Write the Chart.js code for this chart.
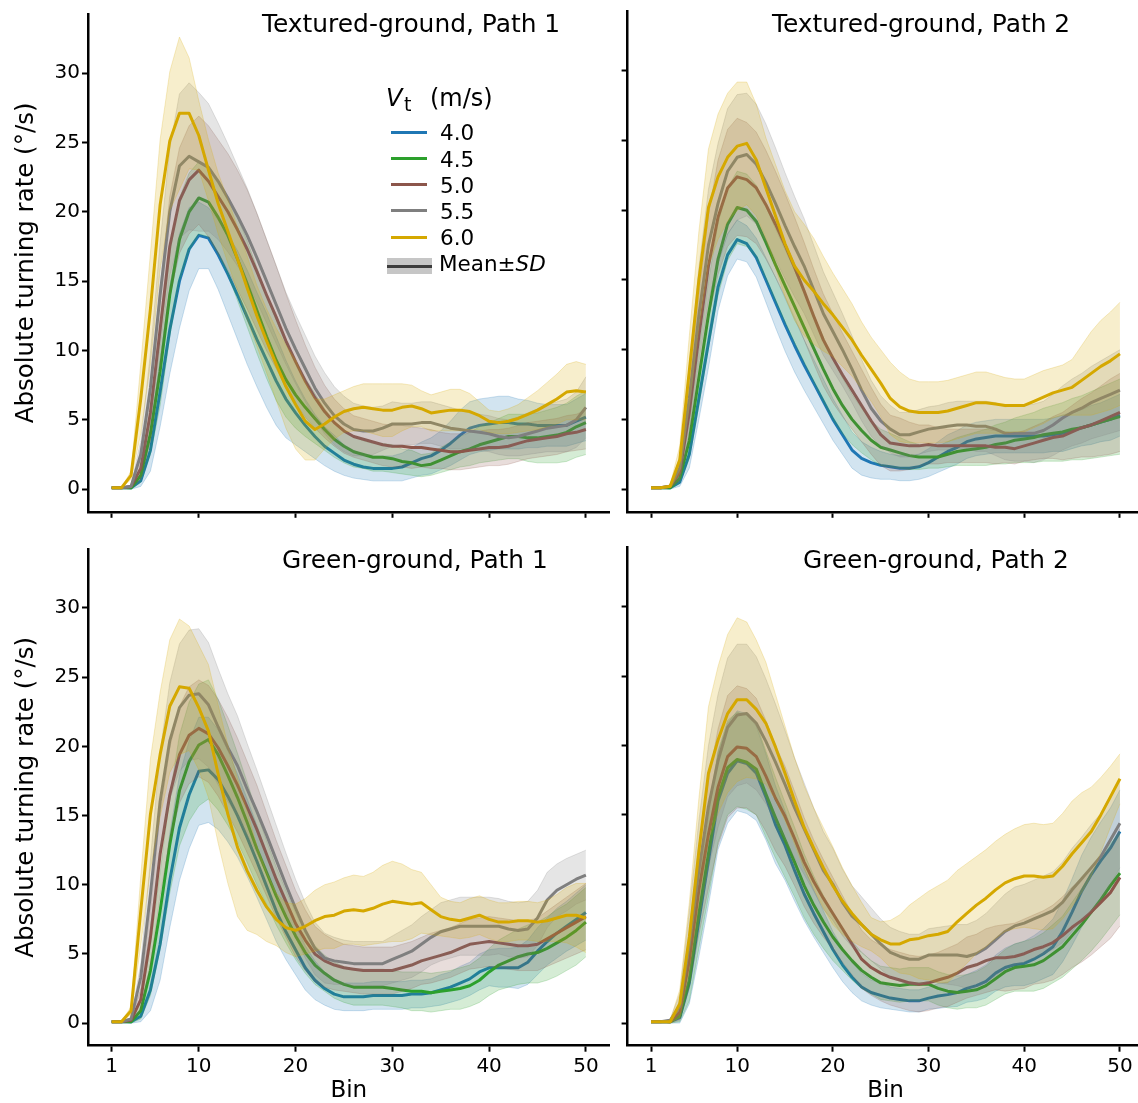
<!DOCTYPE html>
<html><head><meta charset="utf-8"><title>Absolute turning rate</title>
<script src="https://cdn.jsdelivr.net/npm/chart.js@4.4.1/dist/chart.umd.min.js"></script>
<style>
html,body{margin:0;padding:0;background:#fff;overflow:hidden;}
#wrap{position:relative;width:1138px;height:1103px;overflow:hidden;font-family:'DejaVu Sans',sans-serif;color:#000;}
#wrap canvas{position:absolute;}
.txt{position:absolute;white-space:nowrap;line-height:1;}
.sw{position:absolute;height:3px;width:36px;left:391px;}
</style></head><body>
<div id="wrap">
 <canvas id="cTL" width="620" height="540" style="left:0px;top:0px"></canvas>
 <canvas id="cTR" width="600" height="540" style="left:560px;top:0px"></canvas>
 <canvas id="cBL" width="620" height="568" style="left:0px;top:535px"></canvas>
 <canvas id="cBR" width="600" height="568" style="left:560px;top:535px"></canvas>

 <div class="txt" style="left:262px;top:11.9px;font-size:24.9px">Textured-ground, Path 1</div>
 <div class="txt" style="left:772px;top:11.9px;font-size:24.9px">Textured-ground, Path 2</div>
 <div class="txt" style="left:282px;top:548px;font-size:24.8px">Green-ground, Path 1</div>
 <div class="txt" style="left:803px;top:548px;font-size:24.8px">Green-ground, Path 2</div>

 <div class="txt" style="left:386px;top:85.7px;font-size:24px;font-style:italic">V</div>
 <div class="txt" style="left:404px;top:94.9px;font-size:19px">t</div>
 <div class="txt" style="left:430px;top:85.7px;font-size:24px">(m/s)</div>
 <div id="legendItems"></div>
 <div style="position:absolute;left:387px;top:258px;width:45px;height:16px;background:#c6c6c6"></div>
 <div style="position:absolute;left:387px;top:264.5px;width:45px;height:3px;background:#3c3c3c"></div>
 <div class="txt" style="left:439px;top:253.2px;font-size:21.5px">Mean±<i>SD</i></div>
</div>
<script>
// ---------------- data ----------------
const bins = [1,2,3,4,5,6,7,8,9,10,11,12,13,14,15,16,17,18,19,20,21,22,23,24,25,26,27,28,29,30,31,32,33,34,35,36,37,38,39,40,41,42,43,44,45,46,47,48,49,50];
const xTickValues = [1,10,20,30,40,50];
const yTickValues = [0,5,10,15,20,25,30];
const speeds = ['4.0','4.5','5.0','5.5','6.0'];
const seriesColors = ['#1f77b4','#2ca02c','#8c564b','#7f7f7f','#d5a800'];

// Textured-ground, Path 1 : means
const tg1_m40 = [0.1,0.1,0.1,0.6,2.8,7.0,11.5,15.0,17.3,18.3,18.1,16.9,15.5,14.0,12.4,10.8,9.3,7.8,6.5,5.5,4.6,3.8,3.1,2.6,2.1,1.8,1.6,1.5,1.5,1.5,1.6,1.9,2.2,2.4,2.8,3.3,3.9,4.4,4.6,4.7,4.8,4.8,4.7,4.7,4.6,4.6,4.6,4.6,4.9,5.2];
const tg1_m45 = [0.1,0.1,0.1,1.0,4.0,8.5,14.0,18.0,20.0,21.0,20.7,19.6,18.3,16.6,14.8,12.9,11.0,9.3,7.9,6.8,5.9,5.1,4.3,3.6,3.1,2.7,2.5,2.3,2.3,2.2,2.0,1.9,1.7,1.8,2.1,2.4,2.7,2.9,3.2,3.4,3.6,3.8,3.8,3.7,3.7,3.8,3.9,4.1,4.5,4.8];
const tg1_m50 = [0.1,0.1,0.2,1.5,5.5,11.5,17.5,20.8,22.3,23.0,22.2,21.1,20.0,18.7,17.3,15.7,14.0,12.4,10.7,9.2,7.8,6.6,5.6,4.8,4.2,3.8,3.6,3.4,3.2,3.1,3.1,3.0,3.0,2.9,2.8,2.7,2.7,2.8,2.9,3.0,3.0,3.1,3.3,3.5,3.6,3.7,3.8,4.0,4.1,4.3];
const tg1_m55 = [0.1,0.1,0.2,2.5,7.3,14.0,20.0,23.3,24.0,23.6,23.2,22.2,21.0,19.7,18.3,16.7,15.0,13.3,11.6,10.1,8.7,7.3,6.2,5.3,4.7,4.3,4.2,4.2,4.4,4.7,4.7,4.7,4.8,4.8,4.6,4.4,4.3,4.2,4.1,4.0,3.8,3.7,3.8,4.0,4.2,4.4,4.5,4.6,5.0,5.9];
const tg1_m60 = [0.1,0.1,1.0,6.5,13.0,20.5,25.1,27.1,27.1,25.5,23.0,20.6,18.6,16.6,14.5,12.5,10.7,9.0,7.4,6.1,4.9,4.3,4.7,5.2,5.6,5.8,5.9,5.8,5.7,5.7,5.9,6.0,5.8,5.5,5.6,5.7,5.7,5.6,5.3,4.9,4.8,4.9,5.1,5.4,5.7,6.1,6.5,7.0,7.1,7.0];
// Textured-ground, Path 1 : SD
const tg1_s40 = [0,0,0.1,0.4,1.5,2.5,3.2,3.4,3.0,2.4,2.2,2.5,2.9,3.2,3.4,3.4,3.4,3.2,2.8,2.3,1.9,1.6,1.4,1.3,1.1,1.0,0.9,0.9,0.9,0.9,1.0,1.1,1.2,1.3,1.4,1.6,1.8,1.9,1.9,1.9,1.9,1.9,1.8,1.7,1.6,1.5,1.5,1.5,1.6,1.7];
const tg1_s45 = [0,0,0.1,0.5,1.5,2.5,3.0,3.0,2.8,2.6,2.5,2.6,2.8,3.0,3.1,3.1,3.0,2.9,2.7,2.4,2.1,1.8,1.5,1.3,1.2,1.1,1.0,1.0,1.0,1.0,0.9,0.9,0.8,0.8,0.9,1.0,1.1,1.2,1.3,1.4,1.5,1.6,1.6,1.7,1.8,1.9,2.0,2.1,2.2,2.3];
const tg1_s50 = [0,0,0.1,0.8,2.0,3.0,3.6,3.8,3.9,3.9,4.0,4.1,4.2,4.3,4.3,4.2,4.0,3.7,3.4,3.0,2.6,2.2,1.9,1.7,1.6,1.5,1.5,1.5,1.5,1.5,1.5,1.5,1.4,1.4,1.3,1.3,1.3,1.3,1.3,1.3,1.3,1.3,1.3,1.3,1.3,1.3,1.3,1.3,1.3,1.4];
const tg1_s55 = [0,0,0.1,1.0,2.5,3.8,4.6,5.2,5.3,5.0,4.6,4.2,3.9,3.6,3.4,3.2,3.0,2.8,2.6,2.5,2.4,2.3,2.2,2.1,2.0,1.9,1.8,1.7,1.6,1.6,1.5,1.5,1.5,1.5,1.5,1.5,1.4,1.3,1.3,1.3,1.3,1.3,1.4,1.5,1.6,1.7,1.8,1.9,2.0,2.2];
const tg1_s60 = [0,0,0.3,2.5,4.0,4.7,5.0,5.5,4.0,2.5,2.2,2.2,2.3,2.3,2.3,2.2,2.3,2.6,3.0,3.2,2.8,2.2,1.8,1.6,1.5,1.6,1.7,1.8,1.9,1.9,1.7,1.5,1.3,1.3,1.4,1.5,1.5,1.3,1.0,0.8,0.8,0.9,1.0,1.2,1.4,1.6,1.8,2.0,2.1,2.0];

// Textured-ground, Path 2 : means
const tg2_m40 = [0.1,0.1,0.1,0.5,2.5,6.5,10.5,14.5,16.8,17.9,17.6,16.6,15.0,13.4,11.8,10.3,8.9,7.6,6.3,5.0,3.9,2.8,2.2,1.9,1.7,1.6,1.5,1.5,1.6,1.9,2.3,2.7,3.0,3.4,3.6,3.7,3.8,3.8,3.8,3.8,3.8,3.8,3.9,4.0,4.2,4.4,4.6,4.8,5.0,5.3];
const tg2_m45 = [0.1,0.1,0.1,0.8,3.5,8.0,12.5,16.5,19.0,20.2,20.0,19.2,17.7,16.1,14.6,13.1,11.6,10.1,8.6,7.2,6.0,5.0,4.2,3.5,3.0,2.8,2.6,2.4,2.3,2.3,2.3,2.5,2.7,2.8,2.9,3.0,3.2,3.3,3.5,3.6,3.7,3.9,4.0,4.1,4.3,4.4,4.6,4.8,5.0,5.2];
const tg2_m50 = [0.1,0.1,0.2,1.2,5.5,11.0,16.0,19.5,21.6,22.4,22.2,21.6,20.4,19.0,17.5,15.9,14.2,12.4,10.7,9.4,8.2,7.1,6.0,4.9,3.9,3.3,3.2,3.1,3.1,3.2,3.1,3.1,3.1,3.1,3.1,3.1,3.0,3.0,2.9,3.1,3.3,3.5,3.7,3.8,4.1,4.4,4.6,4.9,5.2,5.5];
const tg2_m55 = [0.1,0.1,0.2,1.5,6.5,12.5,17.5,20.5,22.8,23.8,24.0,23.3,22.0,20.5,18.9,17.4,16.0,14.3,12.6,11.3,10.0,8.6,7.1,5.8,4.9,4.3,3.9,3.9,4.1,4.3,4.4,4.5,4.6,4.6,4.5,4.5,4.3,4.0,4.0,4.0,4.0,4.2,4.6,5.1,5.5,5.8,6.2,6.5,6.8,7.1];
const tg2_m60 = [0.1,0.1,0.2,2.1,8.5,15.0,20.2,22.4,23.8,24.6,24.8,23.6,21.6,19.6,17.6,16.0,15.0,14.2,13.3,12.5,11.6,10.7,9.6,8.6,7.6,6.5,5.9,5.6,5.5,5.5,5.5,5.6,5.8,6.0,6.2,6.2,6.1,6.0,6.0,6.0,6.3,6.6,6.9,7.1,7.3,7.8,8.3,8.8,9.2,9.7];
// Textured-ground, Path 2 : SD
const tg2_s40 = [0,0,0.1,0.3,1.0,1.5,1.8,1.7,1.5,1.4,1.3,1.4,1.6,1.8,1.9,1.9,1.8,1.7,1.6,1.5,1.4,1.3,1.2,1.1,1.0,0.9,0.9,0.9,0.9,1.0,1.1,1.2,1.2,1.2,1.2,1.2,1.2,1.2,1.2,1.2,1.2,1.2,1.2,1.3,1.3,1.3,1.4,1.4,1.5,1.5];
const tg2_s45 = [0,0,0.1,0.4,1.3,2.0,2.4,2.6,2.6,2.6,2.6,2.6,2.6,2.6,2.6,2.6,2.5,2.4,2.3,2.2,2.0,1.8,1.6,1.4,1.3,1.2,1.1,1.0,0.9,0.8,0.8,0.9,1.0,1.1,1.2,1.3,1.4,1.5,1.6,1.7,1.8,1.9,2.0,2.1,2.2,2.3,2.4,2.5,2.6,2.7];
const tg2_s50 = [0,0,0.1,0.6,2.0,3.0,3.7,4.1,4.2,4.2,4.1,4.0,3.9,3.8,3.7,3.6,3.5,3.4,3.3,3.2,3.0,2.8,2.6,2.4,2.2,2.0,1.9,1.7,1.5,1.4,1.3,1.2,1.2,1.2,1.2,1.2,1.2,1.1,1.1,1.1,1.2,1.3,1.5,1.7,1.9,2.1,2.3,2.5,2.7,2.8];
const tg2_s55 = [0,0,0.1,0.8,2.3,3.4,4.0,4.3,4.5,4.5,4.4,4.3,4.2,4.0,3.8,3.6,3.4,3.2,3.0,2.8,2.6,2.4,2.2,2.0,1.8,1.7,1.6,1.6,1.6,1.6,1.6,1.7,1.7,1.7,1.8,1.8,1.9,1.9,2.0,2.0,2.1,2.1,2.2,2.3,2.4,2.5,2.6,2.7,2.8,2.9];
const tg2_s60 = [0,0,0.1,1.0,2.5,3.5,4.2,4.5,4.6,4.6,4.4,4.0,3.6,3.7,3.8,3.9,4.0,3.8,3.4,3.0,2.8,2.6,2.4,2.3,2.4,2.6,2.5,2.3,2.2,2.2,2.2,2.2,2.2,2.2,2.2,2.2,2.1,2.0,1.9,1.9,1.9,1.9,1.8,1.8,2.0,2.5,3.0,3.3,3.5,3.7];

// Green-ground, Path 1 : means
const gg1_m40 = [0.1,0.1,0.1,0.5,2.4,5.7,10.3,14.1,16.5,18.2,18.3,17.6,16.4,15.0,13.4,11.7,9.9,8.1,6.6,5.3,4.0,3.1,2.5,2.1,1.9,1.9,1.9,2.0,2.0,2.0,2.0,2.1,2.1,2.2,2.4,2.6,2.9,3.2,3.7,4.0,4.0,4.0,4.0,4.4,5.2,5.9,6.5,7.0,7.5,8.0];
const gg1_m45 = [0.1,0.1,0.1,0.9,3.8,8.1,12.9,16.8,18.9,20.1,20.5,19.4,17.9,16.3,14.5,12.6,10.9,9.2,7.7,6.3,5.1,4.2,3.6,3.1,2.8,2.6,2.6,2.6,2.6,2.5,2.4,2.3,2.3,2.2,2.3,2.4,2.5,2.7,3.1,3.7,4.2,4.5,4.8,5.0,5.1,5.4,5.8,6.2,6.7,7.3];
const gg1_m50 = [0.1,0.1,0.2,1.7,6.2,12.2,16.5,19.4,20.8,21.3,20.9,19.9,18.6,17.2,15.6,14.0,12.2,10.4,8.8,7.2,6.0,5.0,4.5,4.2,4.0,3.9,3.8,3.8,3.8,3.8,4.0,4.2,4.5,4.7,4.9,5.1,5.4,5.7,5.8,5.9,5.8,5.7,5.6,5.6,5.7,6.1,6.5,6.9,7.3,7.7];
const gg1_m55 = [0.1,0.1,0.3,3.3,9.3,16.0,20.4,22.8,23.7,23.8,23.0,21.4,19.9,18.6,16.9,15.3,13.6,11.8,10.0,8.3,6.7,5.4,4.7,4.5,4.4,4.3,4.3,4.3,4.3,4.6,4.9,5.2,5.7,6.2,6.6,6.8,7.0,7.0,7.0,7.0,7.0,6.8,6.7,6.8,7.6,8.9,9.6,10.0,10.4,10.7];
const gg1_m60 = [0.1,0.1,0.9,8.1,15.1,19.4,22.9,24.3,24.2,22.8,21.1,18.0,15.1,12.7,11.0,9.6,8.4,7.5,6.9,6.7,7.0,7.4,7.7,7.8,8.1,8.2,8.1,8.3,8.6,8.8,8.7,8.6,8.7,8.2,7.7,7.5,7.4,7.6,7.8,7.5,7.3,7.3,7.4,7.4,7.3,7.4,7.6,7.8,7.8,7.6];
// Green-ground, Path 1 : SD
const gg1_s40 = [0,0,0.1,0.4,1.5,2.6,3.4,3.8,3.9,3.9,3.8,3.6,3.3,3.0,2.8,2.6,2.4,2.2,2.0,1.8,1.6,1.4,1.2,1.1,1.0,1.0,1.0,1.0,1.0,1.0,1.0,1.0,1.0,1.0,1.1,1.1,1.2,1.2,1.3,1.3,1.4,1.4,1.5,1.6,1.7,1.7,1.8,1.8,1.9,2.0];
const gg1_s45 = [0,0,0.1,0.6,1.8,2.8,3.5,4.0,4.3,4.4,4.3,4.0,3.6,3.2,2.9,2.6,2.3,2.1,1.9,1.7,1.5,1.4,1.3,1.3,1.3,1.3,1.3,1.3,1.3,1.3,1.3,1.4,1.4,1.4,1.4,1.4,1.5,1.5,1.6,1.7,1.8,1.9,2.0,2.1,2.2,2.3,2.4,2.4,2.5,2.5];
const gg1_s50 = [0,0,0.1,0.8,2.0,3.0,3.4,3.5,3.5,3.5,3.5,3.5,3.5,3.4,3.3,3.2,3.0,2.8,2.6,2.4,2.2,2.0,1.9,1.8,1.7,1.7,1.7,1.7,1.7,1.7,1.7,1.7,1.7,1.8,1.8,1.8,1.8,1.8,1.8,1.8,1.8,1.8,1.8,1.8,1.9,2.0,2.1,2.2,2.3,2.4];
const gg1_s55 = [0,0,0.1,1.0,2.5,3.6,4.2,4.6,4.7,4.7,4.5,4.2,3.9,3.6,3.3,3.0,2.7,2.5,2.3,2.1,2.0,1.9,1.8,1.7,1.6,1.6,1.6,1.6,1.6,1.7,1.8,1.9,2.0,2.0,2.1,2.1,2.1,2.1,2.1,2.1,2.0,2.0,2.0,2.0,2.0,2.0,1.9,1.9,1.8,1.8];
const gg1_s60 = [0,0,0.3,2.5,4.0,4.5,4.8,4.9,4.5,4.5,4.8,5.0,5.0,5.0,4.3,3.2,2.5,1.9,1.8,1.9,2.0,2.2,2.3,2.4,2.4,2.5,2.5,2.6,2.8,2.9,2.8,2.5,2.2,1.8,1.4,1.3,1.3,1.4,1.4,1.4,1.4,1.4,1.4,1.4,1.4,1.5,1.7,2.0,2.3,2.5];

// Green-ground, Path 2 : means
const gg2_m40 = [0.1,0.1,0.1,0.4,2.9,7.4,11.7,16.0,18.0,18.9,18.7,18.0,16.3,14.3,12.8,11.0,9.3,7.9,6.6,5.3,4.2,3.3,2.6,2.2,2.0,1.8,1.7,1.6,1.6,1.8,1.95,2.05,2.2,2.5,2.7,3.0,3.6,4.0,4.2,4.3,4.6,5.0,5.5,6.6,8.0,9.5,10.7,11.7,12.6,13.8];
const gg2_m45 = [0.1,0.1,0.1,0.5,3.1,7.9,12.2,16.3,18.4,19.0,18.8,18.3,16.5,14.8,13.2,11.6,9.9,8.5,7.3,6.2,5.3,4.5,3.8,3.3,2.9,2.8,2.7,2.8,2.8,2.8,2.5,2.3,2.2,2.3,2.4,2.7,3.2,3.7,4.0,4.1,4.2,4.5,5.0,5.5,6.3,7.1,8.0,8.9,9.9,10.8];
const gg2_m50 = [0.1,0.1,0.1,0.8,4.5,9.6,13.6,17.0,19.2,19.9,19.8,19.2,17.8,16.2,14.9,13.3,11.6,10.2,9.0,7.9,6.8,5.7,4.6,4.0,3.6,3.3,3.1,2.9,2.8,2.9,3.1,3.3,3.6,4.0,4.2,4.5,4.7,4.7,4.8,5.0,5.3,5.5,5.8,6.3,6.9,7.4,8.0,8.7,9.4,10.5];
const gg2_m55 = [0.1,0.1,0.2,1.2,5.7,11.0,15.6,18.9,21.3,22.2,22.3,21.6,20.3,18.8,17.2,15.5,14.0,12.5,11.0,10.0,8.7,7.7,7.1,6.4,5.7,5.1,4.8,4.6,4.6,4.9,4.9,4.9,4.9,4.8,5.0,5.4,6.0,6.6,7.0,7.2,7.5,7.8,8.1,8.7,9.6,10.4,11.2,12.0,13.2,14.4];
const gg2_m60 = [0.1,0.1,0.1,1.4,6.2,12.4,18.0,20.4,22.3,23.3,23.3,22.6,21.6,19.9,18.0,16.0,14.1,12.6,11.2,9.9,8.8,7.9,7.1,6.4,6.0,5.7,5.7,6.0,6.1,6.3,6.4,6.6,7.3,7.9,8.5,9.0,9.6,10.1,10.4,10.6,10.6,10.5,10.6,11.3,12.2,13.0,13.8,15.0,16.3,17.6];
// Green-ground, Path 2 : SD
const gg2_s40 = [0,0,0.1,0.4,1.5,2.6,3.2,3.5,3.6,3.6,3.6,3.4,3.1,2.8,2.5,2.2,1.9,1.7,1.5,1.3,1.2,1.1,1.0,0.9,0.9,0.8,0.8,0.8,0.8,0.8,0.9,0.9,1.0,1.0,1.1,1.2,1.3,1.4,1.5,1.6,1.7,1.8,2.0,2.2,2.4,2.6,2.7,2.8,2.9,3.0];
const gg2_s45 = [0,0,0.1,0.4,1.5,2.5,3.1,3.3,3.4,3.4,3.4,3.3,3.1,2.9,2.7,2.5,2.3,2.1,1.9,1.7,1.5,1.4,1.3,1.2,1.2,1.2,1.2,1.2,1.2,1.2,1.2,1.2,1.2,1.2,1.3,1.4,1.5,1.6,1.7,1.8,1.9,2.0,2.1,2.2,2.4,2.6,2.8,2.9,3.0,3.0];
const gg2_s50 = [0,0,0.1,0.6,2.0,3.2,3.9,4.2,4.4,4.4,4.3,4.2,4.0,3.8,3.6,3.4,3.2,3.0,2.8,2.6,2.4,2.2,2.1,2.0,2.0,2.0,2.0,2.0,2.0,2.0,2.0,2.1,2.1,2.2,2.2,2.3,2.3,2.4,2.4,2.5,2.5,2.6,2.7,2.8,2.9,3.0,3.1,3.2,3.3,3.5];
const gg2_s55 = [0,0,0.1,0.9,2.4,3.6,4.4,4.8,5.0,5.1,5.0,4.8,4.5,4.2,3.9,3.6,3.3,3.0,2.8,2.6,2.4,2.2,2.0,1.9,1.8,1.8,1.8,1.8,1.8,1.9,2.0,2.1,2.2,2.3,2.4,2.5,2.6,2.7,2.8,2.8,2.8,2.8,2.8,2.9,3.0,3.0,3.1,3.1,3.2,3.2];
const gg2_s60 = [0,0,0.1,1.0,2.5,3.8,4.8,5.3,5.7,5.9,5.6,5.0,4.4,3.8,3.4,3.1,3.0,2.9,2.9,2.8,2.4,2.0,1.6,1.2,1.3,1.7,2.1,2.5,2.9,3.2,3.5,3.7,3.7,3.6,3.5,3.5,3.5,3.5,3.6,3.7,3.8,3.8,3.8,3.8,3.8,3.6,3.2,2.7,2.2,1.8];

// ---------------- drawing ----------------
Chart.defaults.font.family = "'DejaVu Sans', sans-serif";
Chart.defaults.color = '#000';

function rgba(hex, a){
  const n = parseInt(hex.slice(1), 16);
  return 'rgba(' + ((n >> 16) & 255) + ',' + ((n >> 8) & 255) + ',' + (n & 255) + ',' + a + ')';
}

const panels = [
  {id:'cTL', means:[tg1_m40,tg1_m45,tg1_m50,tg1_m55,tg1_m60], sds:[tg1_s40,tg1_s45,tg1_s50,tg1_s55,tg1_s60], yLab:true,  xLab:false, yW:88,   xH:28.2, pad:{left:0,top:11.5,right:10.4,bottom:0}},
  {id:'cTR', means:[tg2_m40,tg2_m45,tg2_m50,tg2_m55,tg2_m60], sds:[tg2_s40,tg2_s45,tg2_s50,tg2_s55,tg2_s60], yLab:false, xLab:false, yW:67.6, xH:28.2, pad:{left:0,top:11.5,right:16.6,bottom:0}},
  {id:'cBL', means:[gg1_m40,gg1_m45,gg1_m50,gg1_m55,gg1_m60], sds:[gg1_s40,gg1_s45,gg1_s50,gg1_s55,gg1_s60], yLab:true,  xLab:true,  yW:88,   xH:57.3, pad:{left:0,top:12.6,right:10.4,bottom:0}},
  {id:'cBR', means:[gg2_m40,gg2_m45,gg2_m50,gg2_m55,gg2_m60], sds:[gg2_s40,gg2_s45,gg2_s50,gg2_s55,gg2_s60], yLab:false, xLab:true,  yW:67.6, xH:57.3, pad:{left:0,top:12.6,right:16.6,bottom:0}}
];

function build(p){
  const datasets = [];
  p.means.forEach((m, i) => {
    const s = p.sds[i], c = seriesColors[i];
    datasets.push({label: speeds[i] + ' -SD', data: bins.map((b, k) => ({x: b, y: m[k] - s[k]})),
      borderColor: rgba(c, 0.22), borderWidth: 1, pointRadius: 0, fill: false, order: 20 - 4 * i});
    datasets.push({label: speeds[i] + ' +SD', data: bins.map((b, k) => ({x: b, y: m[k] + s[k]})),
      borderColor: rgba(c, 0.22), borderWidth: 1, backgroundColor: rgba(c, 0.2), pointRadius: 0, fill: '-1', order: 19 - 4 * i});
    datasets.push({label: speeds[i], data: bins.map((b, k) => ({x: b, y: m[k]})),
      borderColor: c, borderWidth: 3, pointRadius: 0, fill: false, order: 18 - 4 * i});
  });
  new Chart(document.getElementById(p.id), {
    type: 'line',
    data: {datasets},
    options: {
      responsive: false, animation: false, devicePixelRatio: 1,
      layout: {padding: p.pad, autoPadding: false},
      plugins: {legend: {display: false}, tooltip: {enabled: false}},
      elements: {line: {tension: 0, borderJoinStyle: 'round'}},
      scales: {
        x: {
          type: 'linear', min: -1.45, max: 52.45,
          afterBuildTicks: s => { s.ticks = xTickValues.map(v => ({value: v})); },
          afterFit: s => { s.height = p.xH; },
          grid: {display: true, drawOnChartArea: false, drawTicks: true, tickLength: 6, tickWidth: 2, tickColor: '#000'},
          border: {display: true, color: '#000', width: 2.5},
          ticks: {display: p.xLab, color: '#000', font: {size: 20}, padding: 3, maxRotation: 0, autoSkip: false},
          title: {display: p.xLab, text: 'Bin', color: '#000', font: {size: 23}, padding: {top: 0, bottom: -2}}
        },
        y: {
          type: 'linear', min: -1.63, max: 34.26,
          afterBuildTicks: s => { s.ticks = yTickValues.map(v => ({value: v})); },
          afterFit: s => { s.width = p.yW; },
          grid: {display: true, drawOnChartArea: false, drawTicks: true, tickLength: 6, tickWidth: 2, tickColor: '#000'},
          border: {display: true, color: '#000', width: 2.5},
          ticks: {display: p.yLab, color: '#000', font: {size: 20}, padding: 2},
          title: {display: p.yLab, text: 'Absolute turning rate (°/s)', color: '#000', font: {size: 24.5}, padding: {top: 12, bottom: 0}}
        }
      }
    }
  });
}
panels.forEach(build);

// legend entries (inside the first panel)
const legendCenters = [132, 158.3, 184.6, 210.9, 237.2];
const lg = document.getElementById('legendItems');
speeds.forEach((sp, i) => {
  const sw = document.createElement('div');
  sw.className = 'sw';
  sw.style.top = (legendCenters[i] - 1.5) + 'px';
  sw.style.background = seriesColors[i];
  lg.appendChild(sw);
  const t = document.createElement('div');
  t.className = 'txt';
  t.style.left = '440px';
  t.style.top = (legendCenters[i] - 9.8) + 'px';
  t.style.fontSize = '21.5px';
  t.textContent = sp;
  lg.appendChild(t);
});
</script>
</body></html>
